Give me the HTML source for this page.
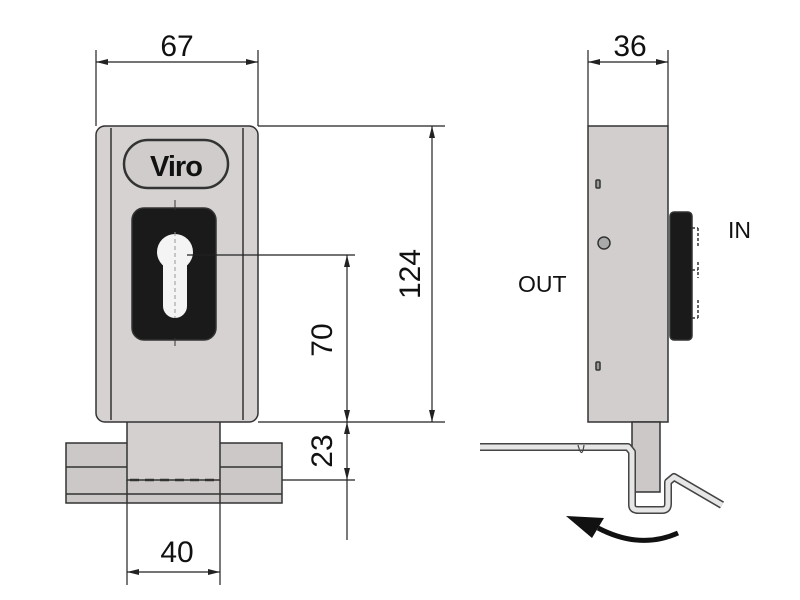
<!DOCTYPE html>
<html><head><style>body{margin:0;background:#fff}svg{display:block}</style></head><body>
<svg width="800" height="600" viewBox="0 0 800 600" xmlns="http://www.w3.org/2000/svg" font-family="Liberation Sans, sans-serif">
<g stroke="#222" stroke-width="1.2" fill="none">
<line x1="96" y1="50" x2="96" y2="126"/><line x1="258" y1="50" x2="258" y2="126"/>
<line x1="96" y1="62" x2="258" y2="62"/>
<line x1="258" y1="126" x2="445" y2="126"/><line x1="258" y1="422" x2="445" y2="422"/>
<line x1="432" y1="126" x2="432" y2="422"/>
<line x1="214" y1="255" x2="355" y2="255"/><line x1="347" y1="255" x2="347" y2="540"/>
<line x1="220" y1="480" x2="355" y2="480"/>
<line x1="127" y1="478" x2="127" y2="585"/><line x1="220" y1="478" x2="220" y2="585"/>
<line x1="127" y1="572" x2="220" y2="572"/>
<line x1="588" y1="50" x2="588" y2="126"/><line x1="668" y1="50" x2="668" y2="126"/>
<line x1="588" y1="62" x2="668" y2="62"/>
</g>
<g fill="#222">
<polygon points="96,62 108,59 108,65"/><polygon points="258,62 246,59 246,65"/>
<polygon points="432,126 429,138 435,138"/><polygon points="432,422 429,410 435,410"/>
<polygon points="347,255 344,267 350,267"/><polygon points="347,422 344,410 350,410"/>
<polygon points="347,422 344,434 350,434"/><polygon points="347,480 344,468 350,468"/>
<polygon points="127,572 139,569 139,575"/><polygon points="220,572 208,569 208,575"/>
<polygon points="588,62 600,59 600,65"/><polygon points="668,62 656,59 656,65"/>
</g>
<g font-size="30" fill="#111" text-anchor="middle">
<text x="177" y="56">67</text><text x="630" y="56">36</text>
<text x="177" y="562">40</text>
<text transform="translate(420,274) rotate(-90)">124</text>
<text transform="translate(332,340) rotate(-90)">70</text>
<text transform="translate(332,451) rotate(-90)">23</text>
</g>
<g font-size="23" fill="#111"><text x="518" y="292">OUT</text><text x="728" y="238">IN</text></g>
<g stroke="#333" stroke-width="1.5">
<rect x="66" y="443" width="216" height="60" fill="#ccc8c8"/>
<line x1="66" y1="467" x2="282" y2="467"/><line x1="66" y1="494" x2="282" y2="494"/>
<rect x="127" y="418" width="93" height="62" fill="#d4d0d0"/>
<line x1="127" y1="480" x2="127" y2="503"/><line x1="220" y1="480" x2="220" y2="503"/>
<line x1="130" y1="480" x2="218" y2="480" stroke-dasharray="9,6" stroke-width="2.5"/>
<rect x="96" y="126" width="162" height="296" rx="9" fill="#d6d2d2"/>
<line x1="111" y1="128" x2="111" y2="420"/><line x1="243" y1="128" x2="243" y2="420"/>
<rect x="124" y="140" width="104" height="48" rx="24" fill="#d0cccc" stroke-width="2.5"/>
<rect x="132" y="208" width="84" height="132" rx="12" fill="#1a1a1a"/>
</g>
<text x="176" y="176" text-anchor="middle" font-size="29" font-weight="bold" fill="#111" letter-spacing="-1">Viro</text>
<circle cx="175" cy="252" r="18" fill="#f4f4f4"/>
<rect x="163" y="252" width="24" height="66" rx="12" fill="#f4f4f4"/>
<line x1="175" y1="232" x2="175" y2="318" stroke="#999" stroke-width="1" stroke-dasharray="4,3"/>
<line x1="175" y1="200" x2="175" y2="210" stroke="#333"/><line x1="175" y1="338" x2="175" y2="346" stroke="#333"/>
<line x1="187" y1="255" x2="258" y2="255" stroke="#222" stroke-width="1.2"/>
<g stroke="#333" stroke-width="1.5">
<rect x="670" y="212" width="22" height="128" rx="4" fill="#1a1a1a"/>
<path d="M692,228 h6 M698,228 v20 M692,270 h6 M698,262 v16 M692,318 h6 M698,300 v18" stroke-dasharray="3,2"/>
<rect x="588" y="126" width="80" height="296" fill="#d2cece"/>
<rect x="596" y="180" width="4" height="8" rx="1" fill="#999"/>
<rect x="596" y="362" width="4" height="8" rx="1" fill="#999"/>
<circle cx="604" cy="243" r="6" fill="#aaa"/>
<rect x="632" y="422" width="28" height="70" fill="#ccc8c8"/>
<path d="M480,447 L628,447 L632,452 L632,505 Q632,510 638,510 L662,510 Q668,510 668,504 L668,482 L674,477 L722,505" fill="none" stroke="#444" stroke-width="8" stroke-linejoin="round"/>
<path d="M480,447 L628,447 L632,452 L632,505 Q632,510 638,510 L662,510 Q668,510 668,504 L668,482 L674,477 L722,505" fill="none" stroke="#e6e6e6" stroke-width="5" stroke-linejoin="round"/>
</g>
<path d="M578,445 q4,15 6,0" fill="none" stroke="#444" stroke-width="1.2"/>
<path d="M678,533 Q640,550 598,528" fill="none" stroke="#111" stroke-width="5"/>
<polygon points="566,516 604,518 592,538" fill="#111"/>
</svg>
</body></html>
